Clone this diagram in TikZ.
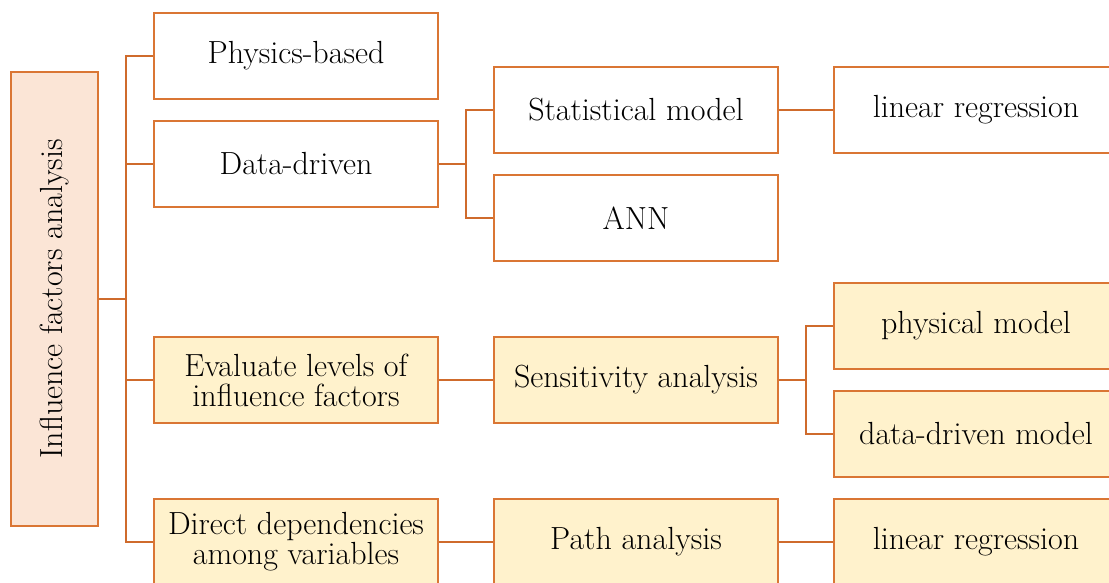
\documentclass[tikz,border=0pt]{standalone}
\definecolor{edgeor}{HTML}{DA7634}
\definecolor{lineor}{HTML}{CF6B2C}
\definecolor{peach}{HTML}{FBE5D6}
\definecolor{cream}{HTML}{FFF2CC}
\begin{document}
\begin{tikzpicture}[x=1pt,y=-1pt,
  box/.style={draw=edgeor,line width=2.5pt,fill=white,minimum width=284pt,minimum height=86pt,inner sep=0pt,align=center,font=\fontsize{32}{30}\selectfont},
  ybox/.style={box,fill=cream},
  conn/.style={draw=lineor,line width=2.3pt}]
\useasboundingbox (0,0) rectangle (1109,583);
\node[draw=edgeor,line width=2.5pt,fill=peach,minimum width=87pt,minimum height=454pt,inner sep=0pt] (root) at (54.5,299) {};
\node[rotate=90,font=\fontsize{32}{30}\selectfont] (roott) at (root.center) {Influence factors analysis};
% column 1
\node[box] (phys) at (296,56) {Physics-based};
\node[box] (data) at (296,164) {Data-driven};
\node[ybox] (eval) at (296,380) {Evaluate levels of\\influence factors};
\node[ybox] (direct) at (296,542) {Direct dependencies\\among variables};
% column 2
\node[box] (stat) at (636,110) {Statistical model};
\node[box] (ann) at (636,218) {ANN};
\node[ybox] (sens) at (636,380) {Sensitivity analysis};
\node[ybox] (path) at (636,542) {Path analysis};
% column 3
\node[box] (lin1) at (976,110) {linear regression};
\node[ybox] (phm) at (976,326) {physical model};
\node[ybox] (ddm) at (976,434) {data-driven model};
\node[ybox] (lin2) at (976,542) {linear regression};
% connectors
\coordinate (t) at (126,299);
\draw[conn] (root.east) -- (t);
\draw[conn] (phys.west) -| (t) |- (direct.west);
\draw[conn] (data.west) -- (data.west -| t);
\draw[conn] (eval.west) -- (eval.west -| t);
\coordinate (t2) at (466,164);
\draw[conn] (data.east) -- (t2);
\draw[conn] (stat.west) -| (t2) |- (ann.west);
\coordinate (t3) at (806,380);
\draw[conn] (sens.east) -- (t3);
\draw[conn] (phm.west) -| (t3) |- (ddm.west);
\draw[conn] (eval.east) -- (sens.west);
\draw[conn] (direct.east) -- (path.west);
\draw[conn] (path.east) -- (lin2.west);
\draw[conn] (stat.east) -- (lin1.west);
\end{tikzpicture}
\end{document}
